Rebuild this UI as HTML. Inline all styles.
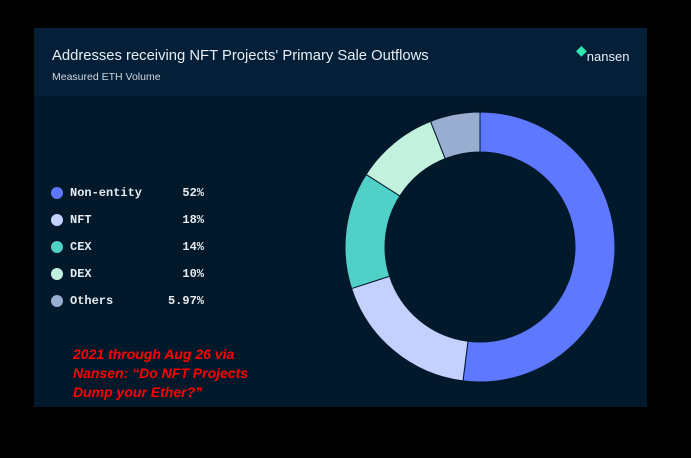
<!DOCTYPE html>
<html><head><meta charset="utf-8"><style>
html,body{margin:0;padding:0;background:#000;width:691px;height:458px;overflow:hidden;font-family:"Liberation Sans",sans-serif}
.panel{position:absolute;left:34px;top:28px;width:613px;height:379px;background:#02192b}
.head{position:absolute;left:0;top:0;width:613px;height:68px;background:#032038}
.t{position:absolute;left:18px;top:20px;color:#e8edf3;font-size:14.8px}
.s{position:absolute;left:18px;top:43px;color:#cfd6de;font-size:10.5px}
.logo{position:absolute;left:542px;top:20px;color:#e8edf3;font-size:13px}
.row{position:absolute;left:17px;font-family:"Liberation Mono",monospace;font-size:12px;font-weight:bold;color:#e6ebf0;height:14px;width:153px}
.dot{position:absolute;left:0;top:1px;width:12px;height:12px;border-radius:50%}
.lab{position:absolute;left:19px;top:0}
.pc{position:absolute;right:0;top:0}
.red{position:absolute;left:39px;top:317px;color:#ff0000;font-weight:bold;font-style:italic;font-size:14px;line-height:19px}
</style></head><body>
<div class="panel">
<div class="head">
<div class="t">Addresses receiving NFT Projects' Primary Sale Outflows</div>
<div class="s">Measured ETH Volume</div>
<div class="logo"><span style="color:#2ee6b0;font-size:14px;position:relative;top:-6px">◆</span>nansen</div>
</div>
<div class="row" style="top:158px"><div class="dot" style="background:#5e78ff"></div><span class="lab">Non-entity</span><span class="pc">52%</span></div>
<div class="row" style="top:185px"><div class="dot" style="background:#c4d1ff"></div><span class="lab">NFT</span><span class="pc">18%</span></div>
<div class="row" style="top:212px"><div class="dot" style="background:#50d0c6"></div><span class="lab">CEX</span><span class="pc">14%</span></div>
<div class="row" style="top:239px"><div class="dot" style="background:#c2f2dd"></div><span class="lab">DEX</span><span class="pc">10%</span></div>
<div class="row" style="top:266px"><div class="dot" style="background:#9aaed2"></div><span class="lab">Others</span><span class="pc">5.97%</span></div>
<div class="red">2021 through Aug 26 via<br>Nansen: “Do NFT Projects<br>Dump your Ether?”</div>
</div>
<svg width="691" height="458" style="position:absolute;left:0;top:0" id="s"></svg>
<script>
var cx=480,cy=247,R=135,r=95;
var d=[[52,"#5e78ff"],[18,"#c4d1ff"],[14,"#50d0c6"],[10,"#c2f2dd"],[5.97,"#9aaed2"]];
var tot=99.97,a=0,h="";
function p(rad,ang){return [cx+rad*Math.sin(ang),cy-rad*Math.cos(ang)];}
d.forEach(function(e){var a1=a+e[0]/tot*2*Math.PI;var L=(a1-a)>Math.PI?1:0;
var A=p(R,a),B=p(R,a1),C=p(r,a1),D=p(r,a);
h+='<path d="M'+A+' A'+R+','+R+' 0 '+L+' 1 '+B+' L'+C+' A'+r+','+r+' 0 '+L+' 0 '+D+'Z" fill="'+e[1]+'" stroke="#02192b" stroke-width="1"/>';a=a1;});
document.getElementById("s").innerHTML=h;
</script>
</body></html>
